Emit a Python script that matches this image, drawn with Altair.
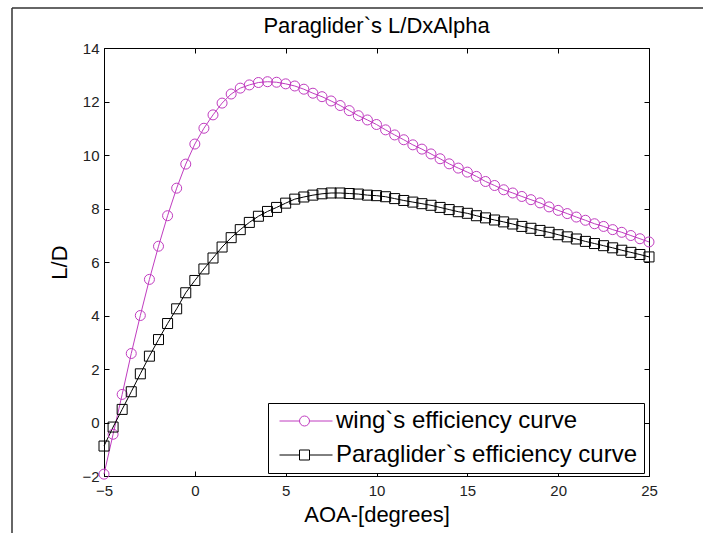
import altair as alt
import pandas as pd

aoa = [-5.0, -4.5, -4.0, -3.5, -3.0, -2.5, -2.0, -1.5, -1.0, -0.5,
       0.0, 0.5, 1.0, 1.5, 2.0, 2.5, 3.0, 3.5, 4.0, 4.5,
       5.0, 5.5, 6.0, 6.5, 7.0, 7.5, 8.0, 8.5, 9.0, 9.5,
       10.0, 10.5, 11.0, 11.5, 12.0, 12.5, 13.0, 13.5, 14.0, 14.5,
       15.0, 15.5, 16.0, 16.5, 17.0, 17.5, 18.0, 18.5, 19.0, 19.5,
       20.0, 20.5, 21.0, 21.5, 22.0, 22.5, 23.0, 23.5, 24.0, 24.5, 25.0]

wing_ld = [-1.93, -0.44, 1.05, 2.58, 4.00, 5.35, 6.59, 7.73, 8.76, 9.66,
           10.41, 11.00, 11.50, 11.94, 12.28, 12.50, 12.62, 12.71, 12.74, 12.72,
           12.66, 12.58, 12.46, 12.31, 12.18, 12.02, 11.85, 11.66, 11.47, 11.31,
           11.14, 10.94, 10.75, 10.57, 10.38, 10.22, 10.04, 9.86, 9.67, 9.51,
           9.36, 9.20, 9.01, 8.86, 8.70, 8.58, 8.45, 8.33, 8.21, 8.06,
           7.93, 7.81, 7.68, 7.56, 7.43, 7.33, 7.21, 7.11, 6.99, 6.87, 6.75]

para_ld = [-0.88, -0.17, 0.49, 1.15, 1.82, 2.48, 3.10, 3.70, 4.25, 4.85,
           5.31, 5.74, 6.15, 6.56, 6.91, 7.21, 7.48, 7.71, 7.89, 8.04,
           8.20, 8.35, 8.43, 8.50, 8.55, 8.58, 8.58, 8.56, 8.54, 8.50,
           8.48, 8.44, 8.37, 8.30, 8.24, 8.18, 8.12, 8.04, 7.96, 7.88,
           7.82, 7.73, 7.65, 7.57, 7.50, 7.42, 7.33, 7.26, 7.18, 7.11,
           7.02, 6.94, 6.86, 6.77, 6.69, 6.61, 6.53, 6.44, 6.36, 6.28, 6.19]

series_names = ["wing`s efficiency curve", "Paraglider`s efficiency curve"]
series_colors = ["#C03CC0", "#000000"]
x_ticks = [-5, 0, 5, 10, 15, 20, 25]
y_ticks = [-2, 0, 2, 4, 6, 8, 10, 12, 14]

df = pd.concat([
    pd.DataFrame({"aoa": aoa, "ld": wing_ld, "series": series_names[0]}),
    pd.DataFrame({"aoa": aoa, "ld": para_ld, "series": series_names[1]}),
])

W, H = 545, 428
FONT = "Liberation Sans"

xs = alt.Scale(domain=[-5, 25], nice=False, zero=False)
ys = alt.Scale(domain=[-2, 14], nice=False, zero=False)
cs = alt.Scale(domain=series_names, range=series_colors)

tick_style = dict(values=x_ticks, grid=False, domain=False, tickColor="#000",
                  tickWidth=1, tickSize=5, labels=False, title="")
ytick_style = dict(values=y_ticks, grid=False, domain=False, tickColor="#000",
                   tickWidth=1, tickSize=5, labels=False, title="")

ax_bottom = alt.Axis(orient="bottom", values=x_ticks, grid=False, domain=False,
                     ticks=False, labelFontSize=15, labelFont=FONT,
                     labelColor="#222", labelPadding=7, labelFlush=False,
                     labelOverlap=False,
                     title="AOA-[degrees]", titleFontSize=22, titleFont=FONT,
                     titleFontWeight="normal", titleColor="#000", titlePadding=6)
ax_left = alt.Axis(orient="left", values=y_ticks, grid=False, domain=False,
                   ticks=False, labelFontSize=15, labelFont=FONT,
                   labelColor="#222", labelPadding=5, labelFlush=False,
                   labelOverlap=False,
                   title="L/D", titleFontSize=22, titleFont=FONT,
                   titleFontWeight="normal", titleColor="#000", titlePadding=10)

lines = alt.Chart(df).mark_line(strokeWidth=1).encode(
    x=alt.X("aoa:Q", scale=xs, axis=ax_bottom),
    y=alt.Y("ld:Q", scale=ys, axis=ax_left),
    color=alt.Color("series:N", scale=cs, legend=None),
    detail="series:N",
)

points = alt.Chart(df).mark_point(filled=False, size=100, strokeWidth=1, opacity=1).encode(
    x=alt.X("aoa:Q", scale=xs, axis=alt.Axis(orient="top", offset=-H, **tick_style)),
    y=alt.Y("ld:Q", scale=ys, axis=alt.Axis(orient="right", offset=-W, **ytick_style)),
    color=alt.Color("series:N", scale=cs, legend=None),
    shape=alt.Shape("series:N", scale=alt.Scale(domain=series_names, range=["circle", "square"]), legend=None),
)

# legend symbols: a line segment with the marker in its middle (units of 10 px)
circle_path = ("M-0.65,0L1.35,0M2.35,0L4.65,0"
               "M2.35,0A0.5,0.5,0,1,1,1.35,0A0.5,0.5,0,1,1,2.35,0")
square_path = ("M-0.65,0L1.35,0M2.35,0L4.65,0"
               "M1.35,-0.5L2.35,-0.5L2.35,0.5L1.35,0.5Z")

leg = alt.Legend(orient="none", legendX=164, legendY=355, title=None,
                 labelFontSize=24, labelFont=FONT, labelColor="#000",
                 labelOffset=38, symbolSize=400, symbolStrokeWidth=1,
                 strokeColor="#000", fillColor="white", padding=6,
                 rowPadding=10, labelLimit=400)

legend_layer = alt.Chart(df).transform_filter("false").mark_point(
    filled=False, strokeWidth=1, opacity=1).encode(
    x=alt.X("aoa:Q", scale=xs, axis=alt.Axis(orient="bottom", offset=-H, **tick_style)),
    y=alt.Y("ld:Q", scale=ys, axis=alt.Axis(orient="left", offset=-W, **ytick_style)),
    color=alt.Color("series:N", scale=cs, legend=leg),
    shape=alt.Shape("series:N", scale=alt.Scale(domain=series_names, range=[circle_path, square_path]), legend=leg),
)

frame_df = pd.DataFrame({"k": [0]})
frame_v = alt.Chart(frame_df).mark_rule(color="#333", strokeWidth=1.5).encode(
    x=alt.value(-92), y=alt.value(-40), y2=alt.value(H + 60))
frame_h = alt.Chart(frame_df).mark_rule(color="#333", strokeWidth=1.5).encode(
    x=alt.value(-92), x2=alt.value(W + 60), y=alt.value(-40))

chart = alt.layer(lines, points, legend_layer, frame_v, frame_h).resolve_scale(
    color="independent", shape="independent"
).resolve_axis(
    x="independent", y="independent"
).properties(
    width=W, height=H,
    title=alt.Title("Paraglider`s L/DxAlpha", fontSize=22, font=FONT,
                    fontWeight="normal", color="#000", anchor="middle",
                    frame="group", baseline="alphabetic", offset=17, dy=65),
    autosize=alt.AutoSizeParams(type="none"),
    padding={"left": 104, "top": 48, "right": 703 - 104 - W, "bottom": 533 - 48 - H},
    background="white",
).configure_view(stroke="#000", strokeWidth=1)

chart.save("out.html", embed_options={"renderer": "svg", "actions": False})
